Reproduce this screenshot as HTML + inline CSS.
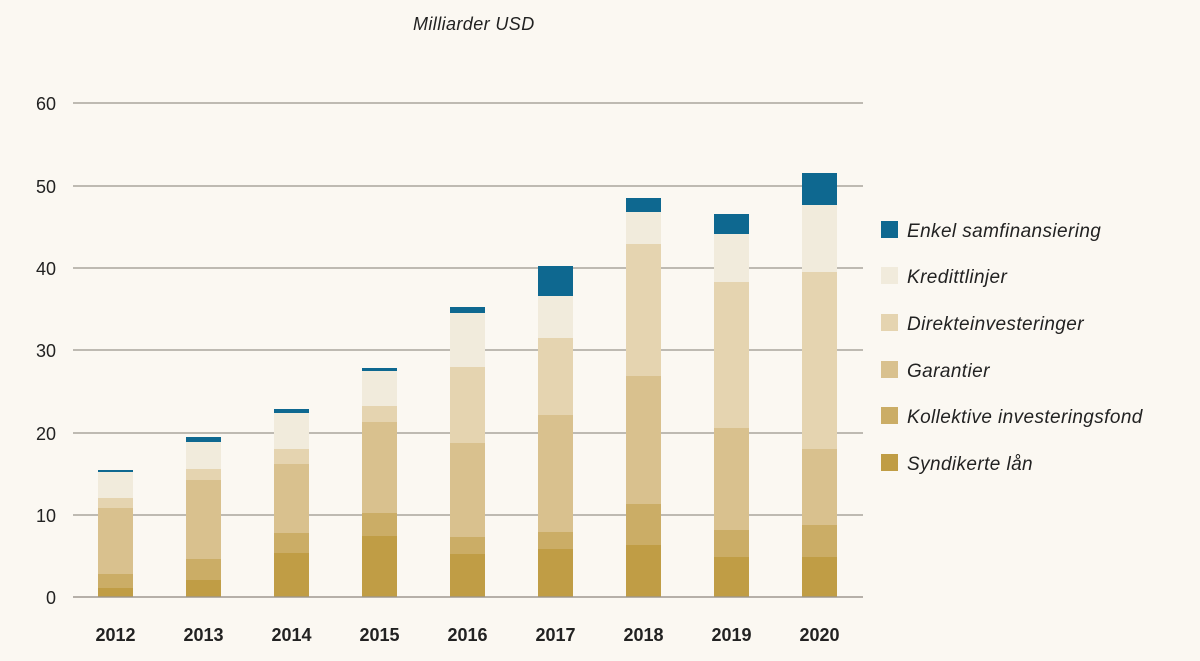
<!DOCTYPE html>
<html><head><meta charset="utf-8"><style>
html,body{margin:0;padding:0;background:#fbf8f2;}
svg{display:block;font-family:"Liberation Sans",sans-serif;}
</style></head><body>
<svg width="1200" height="661" viewBox="0 0 1200 661">
<rect width="1200" height="661" fill="#fbf8f2"/>
<text x="413" y="30" font-size="18" font-style="italic" fill="#222" letter-spacing="0.4">Milliarder USD</text>
<g stroke="#9a958d" stroke-width="1.3">
<line x1="73" x2="863" y1="103" y2="103"/><line x1="73" x2="863" y1="186" y2="186"/>
<line x1="73" x2="863" y1="268" y2="268"/><line x1="73" x2="863" y1="350" y2="350"/>
<line x1="73" x2="863" y1="433" y2="433"/><line x1="73" x2="863" y1="515" y2="515"/>
<line x1="73" x2="863" y1="597" y2="597"/>
</g>
<g font-size="18" fill="#222" text-anchor="end">
<text x="56" y="110">60</text><text x="56" y="193">50</text><text x="56" y="275">40</text>
<text x="56" y="357">30</text><text x="56" y="440">20</text><text x="56" y="522">10</text><text x="56" y="604">0</text>
</g>
<g font-size="18" font-weight="bold" fill="#222" text-anchor="middle">
<text x="115.5" y="641">2012</text><text x="203.5" y="641">2013</text><text x="291.5" y="641">2014</text>
<text x="379.5" y="641">2015</text><text x="467.5" y="641">2016</text><text x="555.5" y="641">2017</text>
<text x="643.5" y="641">2018</text><text x="731.5" y="641">2019</text><text x="819.5" y="641">2020</text>
</g>
<g font-size="19" font-style="italic" fill="#222" letter-spacing="0.4">
<rect x="881" y="221" width="17" height="17" fill="#0e6890"/><text x="907" y="237">Enkel samfinansiering</text>
<rect x="881" y="267" width="17" height="17" fill="#f1ebdc"/><text x="907" y="283">Kredittlinjer</text>
<rect x="881" y="314" width="17" height="17" fill="#e5d4b0"/><text x="907" y="330">Direkteinvesteringer</text>
<rect x="881" y="361" width="17" height="17" fill="#d9c18e"/><text x="907" y="377">Garantier</text>
<rect x="881" y="407" width="17" height="17" fill="#cbad66"/><text x="907" y="423">Kollektive investeringsfond</text>
<rect x="881" y="454" width="17" height="17" fill="#c09d45"/><text x="907" y="470">Syndikerte lån</text>
</g>
<g>
<rect x="98" y="470" width="35" height="2" fill="#0e6890"/>
<rect x="98" y="472" width="35" height="26" fill="#f1ebdc"/>
<rect x="98" y="498" width="35" height="10" fill="#e5d4b0"/>
<rect x="98" y="508" width="35" height="66" fill="#d9c18e"/>
<rect x="98" y="574" width="35" height="14" fill="#cbad66"/>
<rect x="98" y="588" width="35" height="9" fill="#c09d45"/>
<rect x="186" y="437" width="35" height="5" fill="#0e6890"/>
<rect x="186" y="442" width="35" height="27" fill="#f1ebdc"/>
<rect x="186" y="469" width="35" height="11" fill="#e5d4b0"/>
<rect x="186" y="480" width="35" height="79" fill="#d9c18e"/>
<rect x="186" y="559" width="35" height="21" fill="#cbad66"/>
<rect x="186" y="580" width="35" height="17" fill="#c09d45"/>
<rect x="274" y="409" width="35" height="4" fill="#0e6890"/>
<rect x="274" y="413" width="35" height="36" fill="#f1ebdc"/>
<rect x="274" y="449" width="35" height="15" fill="#e5d4b0"/>
<rect x="274" y="464" width="35" height="69" fill="#d9c18e"/>
<rect x="274" y="533" width="35" height="20" fill="#cbad66"/>
<rect x="274" y="553" width="35" height="44" fill="#c09d45"/>
<rect x="362" y="368" width="35" height="3" fill="#0e6890"/>
<rect x="362" y="371" width="35" height="35" fill="#f1ebdc"/>
<rect x="362" y="406" width="35" height="16" fill="#e5d4b0"/>
<rect x="362" y="422" width="35" height="91" fill="#d9c18e"/>
<rect x="362" y="513" width="35" height="23" fill="#cbad66"/>
<rect x="362" y="536" width="35" height="61" fill="#c09d45"/>
<rect x="450" y="307" width="35" height="6" fill="#0e6890"/>
<rect x="450" y="313" width="35" height="54" fill="#f1ebdc"/>
<rect x="450" y="367" width="35" height="76" fill="#e5d4b0"/>
<rect x="450" y="443" width="35" height="94" fill="#d9c18e"/>
<rect x="450" y="537" width="35" height="17" fill="#cbad66"/>
<rect x="450" y="554" width="35" height="43" fill="#c09d45"/>
<rect x="538" y="266" width="35" height="30" fill="#0e6890"/>
<rect x="538" y="296" width="35" height="42" fill="#f1ebdc"/>
<rect x="538" y="338" width="35" height="77" fill="#e5d4b0"/>
<rect x="538" y="415" width="35" height="117" fill="#d9c18e"/>
<rect x="538" y="532" width="35" height="17" fill="#cbad66"/>
<rect x="538" y="549" width="35" height="48" fill="#c09d45"/>
<rect x="626" y="198" width="35" height="14" fill="#0e6890"/>
<rect x="626" y="212" width="35" height="32" fill="#f1ebdc"/>
<rect x="626" y="244" width="35" height="132" fill="#e5d4b0"/>
<rect x="626" y="376" width="35" height="128" fill="#d9c18e"/>
<rect x="626" y="504" width="35" height="41" fill="#cbad66"/>
<rect x="626" y="545" width="35" height="52" fill="#c09d45"/>
<rect x="714" y="214" width="35" height="20" fill="#0e6890"/>
<rect x="714" y="234" width="35" height="48" fill="#f1ebdc"/>
<rect x="714" y="282" width="35" height="146" fill="#e5d4b0"/>
<rect x="714" y="428" width="35" height="102" fill="#d9c18e"/>
<rect x="714" y="530" width="35" height="27" fill="#cbad66"/>
<rect x="714" y="557" width="35" height="40" fill="#c09d45"/>
<rect x="802" y="173" width="35" height="32" fill="#0e6890"/>
<rect x="802" y="205" width="35" height="67" fill="#f1ebdc"/>
<rect x="802" y="272" width="35" height="177" fill="#e5d4b0"/>
<rect x="802" y="449" width="35" height="76" fill="#d9c18e"/>
<rect x="802" y="525" width="35" height="32" fill="#cbad66"/>
<rect x="802" y="557" width="35" height="40" fill="#c09d45"/>
</g>
<line x1="73" x2="863" y1="597" y2="597" stroke="#9a958d" stroke-width="1.3"/>
</svg>
</body></html>
